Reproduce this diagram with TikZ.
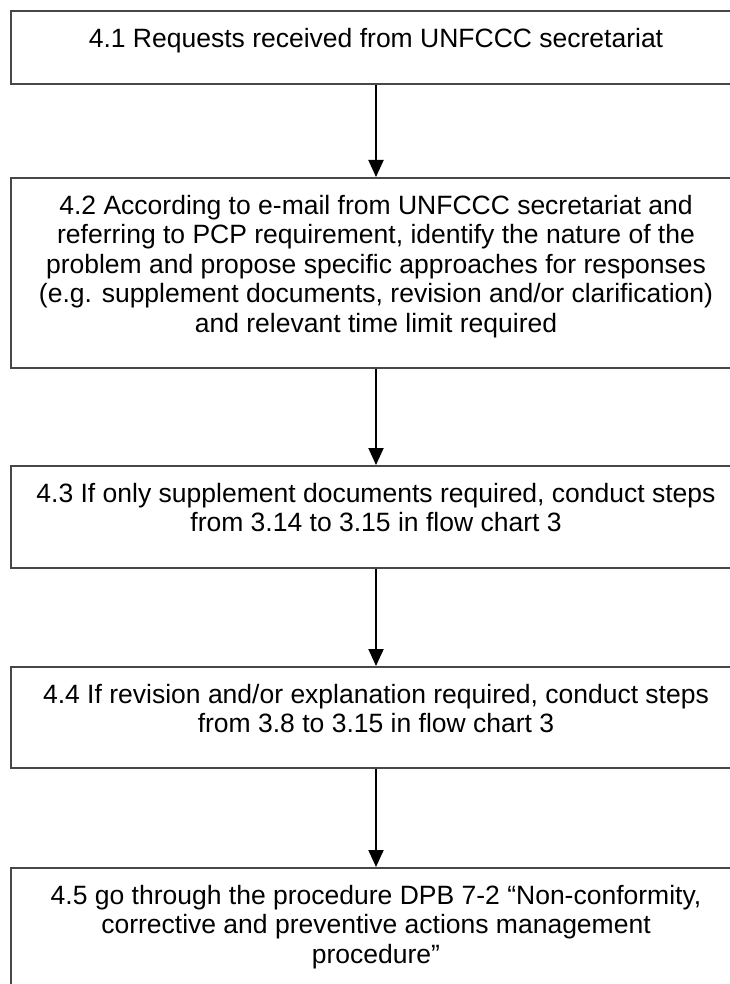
\documentclass[tikz,border=0pt]{standalone}
\usepackage{fontspec}
\setmainfont{Liberation Sans}
\usetikzlibrary{arrows.meta,positioning}

% text block of a step, set from the top of the box
\newcommand{\stepbody}[2]{%
  \parbox[c][#1][t]{720pt}{\centering\vspace*{15.5pt}\strut #2}}

\begin{document}
\begin{tikzpicture}[
  x=1pt,
  y=-1pt,
  stepbox/.style={
    draw=black!72,
    line width=1.8pt,
    anchor=north,
    minimum width=730pt,
    inner sep=0pt,
    font=\fontsize{26.5pt}{29.5pt}\selectfont
  },
  flow/.style={line width=2pt,-{Triangle[length=17pt,width=15pt]}}
]

\useasboundingbox (0,0) rectangle (729,984);

% Steps of flow chart 4
\node[stepbox] (request) at (376,10)
  {\stepbody{73pt}{4.1 Requests received from UNFCCC secretariat}};

\node[stepbox] (identify) at (376,177)
  {\stepbody{190pt}{4.2 According to e-mail from UNFCCC secretariat and\\
  referring to PCP requirement, identify the nature of the\\
  problem and propose specific approaches for responses\\
  (e.g. supplement documents, revision and/or clarification)\\
  and relevant time limit required}};

\node[stepbox] (supplement) at (376,465)
  {\stepbody{102pt}{4.3 If only supplement documents required, conduct steps\\
  from 3.14 to 3.15 in flow chart 3}};

\node[stepbox] (revision) at (376,666)
  {\stepbody{101pt}{4.4 If revision and/or explanation required, conduct steps\\
  from 3.8 to 3.15 in flow chart 3}};

\node[stepbox] (procedure) at (376,867)
  {\stepbody{132pt}{4.5 go through the procedure DPB 7-2 “Non-conformity,\\
  corrective and preventive actions management\\
  procedure”}};

% Arrows
\draw[flow] (request) -- (identify);
\draw[flow] (identify) -- (supplement);
\draw[flow] (supplement) -- (revision);
\draw[flow] (revision) -- (procedure);

\end{tikzpicture}
\end{document}
